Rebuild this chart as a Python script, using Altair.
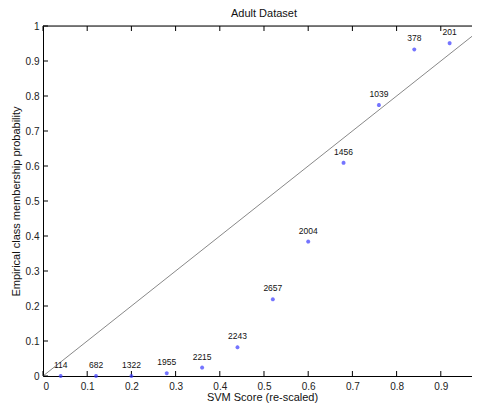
import altair as alt
import pandas as pd

scores = [0.04, 0.12, 0.20, 0.28, 0.36, 0.44, 0.52, 0.60, 0.68, 0.76, 0.84, 0.92]
probs = [0.0, 0.0, 0.0, 0.008, 0.024, 0.082, 0.219, 0.384, 0.609, 0.774, 0.933, 0.951]
counts = ["114", "682", "1322", "1955", "2215", "2243", "2657", "2004", "1456", "1039", "378", "201"]
x_tick_vals = [0, 0.1, 0.2, 0.3, 0.4, 0.5, 0.6, 0.7, 0.8, 0.9]
y_tick_vals = [0, 0.1, 0.2, 0.3, 0.4, 0.5, 0.6, 0.7, 0.8, 0.9, 1.0]
diag = [0, 1]
title_text = ["Adult Dataset"]

W, H = 429, 350
XMAX = 0.9706
FONT = "Liberation Sans"

pts = pd.DataFrame({"x": scores, "y": probs, "n": counts})
xticks = pd.DataFrame({"v": x_tick_vals})
yticks = pd.DataFrame({"v": y_tick_vals})
diag_df = pd.DataFrame({"x": diag, "y": diag})
title_df = pd.DataFrame({"t": title_text})

xs = alt.Scale(domain=[0, XMAX], nice=False)
ys = alt.Scale(domain=[0, 1], nice=False)

xaxis = alt.Axis(values=x_tick_vals, format="~g", ticks=False, tickSize=0, grid=False,
                 labelPadding=5, labelFontSize=10, labelColor="#222", domainColor="#000",
                 labelOverlap=False,
                 title="SVM Score (re-scaled)", titleFontSize=11, titleFontWeight="normal",
                 titleColor="#111", titleX=219, titleY=21, titleBaseline="middle",
                 titleAnchor="start", titleAlign="center")
yaxis = alt.Axis(values=y_tick_vals, format="~g", ticks=False, tickSize=0, grid=False,
                 labelPadding=4, labelFontSize=10, labelColor="#222", domainColor="#000",
                 labelOverlap=False,
                 title="Empirical class membership probability", titleFontSize=11,
                 titleFontWeight="normal", titleColor="#111", titleX=-27, titleY=H / 2,
                 titleBaseline="middle", titleAnchor="start", titleAlign="center")

X = alt.X("x:Q", scale=xs, axis=xaxis)
Y = alt.Y("y:Q", scale=ys, axis=yaxis)

line = alt.Chart(diag_df).mark_line(color="#888", strokeWidth=1, clip=True).encode(x=X, y=Y)

star = "M-1,0L1,0M0,-1L0,1M-0.7,-0.7L0.7,0.7M-0.7,0.7L0.7,-0.7"
points = alt.Chart(pts).mark_point(shape=star, color="#3a3aff", size=16, strokeWidth=1.2).encode(
    x=X, y=Y
)
labels = alt.Chart(pts).mark_text(fontSize=8.5, dy=-11, color="#111", font=FONT).encode(
    x=X, y=Y, text="n:N"
)

xt_bot = alt.Chart(xticks).mark_rule(color="#000").encode(
    x=alt.X("v:Q", scale=xs, axis=xaxis), y=alt.value(H), y2=alt.value(H - 5))
xt_top = alt.Chart(xticks).mark_rule(color="#000").encode(
    x=alt.X("v:Q", scale=xs, axis=xaxis), y=alt.value(0), y2=alt.value(5))
yt_left = alt.Chart(yticks).mark_rule(color="#000").encode(
    y=alt.Y("v:Q", scale=ys, axis=yaxis), x=alt.value(0), x2=alt.value(5))
top_border = alt.Chart(title_df).mark_rule(color="#000").encode(
    x=alt.value(0), x2=alt.value(W), y=alt.value(0))
title = alt.Chart(title_df).mark_text(fontSize=11, color="#111", font=FONT,
                                      baseline="middle", align="center").encode(
    x=alt.value(221), y=alt.value(-12), text="t:N")

chart = alt.layer(line, xt_bot, xt_top, yt_left, top_border, points, labels, title).properties(
    width=W, height=H,
    autosize=alt.AutoSizeParams(type="none"),
    padding={"left": 35, "top": 18, "right": 0, "bottom": 29},
).configure_view(stroke=None).configure_axis(
    labelFont=FONT, titleFont=FONT
).configure(background="white")

chart.save("out.html", embed_options={"renderer": "svg", "actions": False})
